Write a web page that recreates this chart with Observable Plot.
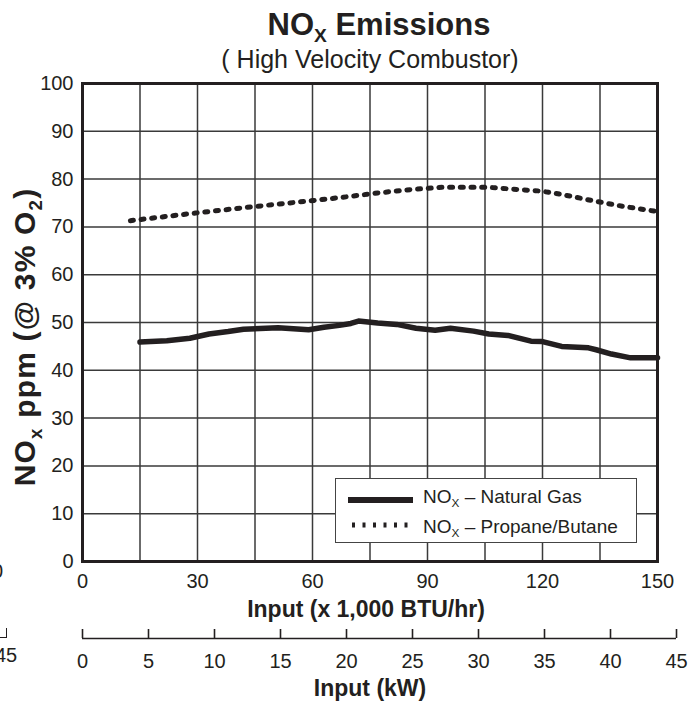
<!DOCTYPE html>
<html>
<head>
<meta charset="utf-8">
<script src="https://cdn.jsdelivr.net/npm/d3@7"></script>
<script src="https://cdn.jsdelivr.net/npm/@observablehq/plot@0.6"></script>
<style>
  body { margin: 0; background: #fff; }
  #wrap { position: relative; width: 689px; height: 702px; overflow: hidden; background: #fff;
          font-family: "Liberation Sans", Arial, Helvetica, sans-serif; color: #231f20; }
  .abs { position: absolute; white-space: nowrap; }
  .ctr { transform: translateX(-50%); }
  sub { font-size: 0.62em; vertical-align: -0.35em; line-height: 0; }
  #main, #kw { position: absolute; left: 0; }
</style>
</head>
<body>
<div id="wrap">
  <div class="abs ctr" style="left:379px; top:8.8px; font-size:31px; line-height:31px; font-weight:bold;">NO<sub>X</sub> Emissions</div>
  <div class="abs ctr" style="left:370px; top:46.8px; font-size:25px; line-height:25px;">( High Velocity Combustor)</div>
  <div class="abs" style="left:25px; top:337px; font-size:30px; line-height:30px; font-weight:bold; letter-spacing:1.2px; transform: translate(-50%,-50%) rotate(-90deg);">NO<sub>x</sub> ppm (@ 3% O<sub>2</sub>)</div>
  <div id="main"></div>
  <div id="kw" style="top:600px;"></div>
  <div class="abs ctr" style="left:366px; top:597.5px; font-size:23px; line-height:23px; font-weight:bold;">Input (x 1,000 BTU/hr)</div>
  <div class="abs ctr" style="left:370px; top:676.5px; font-size:23px; line-height:23px; font-weight:bold;">Input (kW)</div>
  <!-- legend -->
  <div class="abs" style="left:335px; top:478px; width:300px; height:63px; background:#fff; border:1.5px solid #444;">
    <svg width="80" height="63" style="position:absolute; left:0; top:0;">
      <line x1="12" x2="77" y1="21" y2="21" stroke="#231f20" stroke-width="6"/>
      <line x1="16" x2="72" y1="46" y2="46" stroke="#231f20" stroke-width="5" stroke-dasharray="3 7.5"/>
    </svg>
    <div class="abs" style="left:87px; top:8px; font-size:19px; line-height:19px;">NO<sub>X</sub> – Natural Gas</div>
    <div class="abs" style="left:87px; top:38px; font-size:19px; line-height:19px;">NO<sub>X</sub> – Propane/Butane</div>
  </div>
  <!-- cropped remnants of neighbouring panel -->
  <div class="abs" style="left:-8px; top:561px; font-size:20px; line-height:20px;">0</div>
  <div class="abs" style="left:-5px; top:645px; font-size:20px; line-height:20px;">45</div>
  <div class="abs" style="left:0px; top:628px; width:6px; height:9px; border-right:1.5px solid #231f20; border-bottom:1.5px solid #231f20;"></div>
</div>
<script>
// Natural gas series (x = input ×1,000 BTU/hr, y = NOx ppm)
const gasX = [15, 22, 28, 33, 38, 42, 51, 59, 63, 67, 70, 72, 77, 82, 87, 92, 96, 102, 106, 111, 117, 120, 125, 132, 134, 138, 143, 150];
const gasY = [45.9, 46.2, 46.7, 47.6, 48.1, 48.6, 48.9, 48.5, 49.0, 49.4, 49.8, 50.3, 49.9, 49.6, 48.8, 48.4, 48.8, 48.2, 47.6, 47.3, 46.1, 46.0, 45.0, 44.7, 44.3, 43.4, 42.6, 42.6];
// Propane/Butane series
const propX = [12.5, 29.5, 43, 60, 69, 77, 85.5, 94, 105.5, 114, 119.5, 125, 133, 141, 150];
const propY = [71.3, 72.9, 74.1, 75.5, 76.3, 77.1, 77.8, 78.3, 78.3, 77.8, 77.5, 76.8, 75.5, 74.3, 73.2];
// Axis ticks
const xTicks = [0, 30, 60, 90, 120, 150];
const xGrid = [15, 30, 45, 60, 75, 90, 105, 120, 135];
const yTicks = [0, 10, 20, 30, 40, 50, 60, 70, 80, 90, 100];
const yGrid = [10, 20, 30, 40, 50, 60, 70, 80, 90];
const kwTicks = [0, 5, 10, 15, 20, 25, 30, 35, 40, 45];

const gas = gasX.map((x, i) => ({x, y: gasY[i]}));
const prop = propX.map((x, i) => ({x, y: propY[i]}));

const ink = "#231f20";
const main = Plot.plot({
  width: 689, height: 625,
  marginLeft: 82, marginRight: 32, marginTop: 83, marginBottom: 64,
  x: {domain: [0, 150]},
  y: {domain: [0, 100]},
  style: {fontFamily: '"Liberation Sans", Arial, sans-serif', fontSize: "20px", color: ink, background: "transparent", overflow: "visible"},
  marks: [
    Plot.ruleX(xGrid, {stroke: "#3a3a3a", strokeWidth: 1.5}),
    Plot.ruleY(yGrid, {stroke: "#3a3a3a", strokeWidth: 1.5}),
    Plot.line(prop, {x: "x", y: "y", stroke: ink, strokeWidth: 5, strokeDasharray: "3 7.7"}),
    Plot.line(gas, {x: "x", y: "y", stroke: ink, strokeWidth: 5.5, strokeLinejoin: "round"}),
    Plot.frame({stroke: ink, strokeWidth: 3}),
    Plot.axisX({ticks: xTicks, tickSize: 0, tickPadding: 12, label: null, fill: ink, fontSize: 20}),
    Plot.axisY({ticks: yTicks, tickSize: 0, tickPadding: 9, label: null, fill: ink, fontSize: 20})
  ]
});
document.getElementById("main").appendChild(main);

const kw = Plot.plot({
  width: 689, height: 102,
  marginLeft: 82, marginRight: 13, marginTop: 29, marginBottom: 64,
  x: {domain: [0, 45]},
  y: {domain: [0, 1], axis: null},
  style: {fontFamily: '"Liberation Sans", Arial, sans-serif', fontSize: "20px", color: ink, background: "transparent", overflow: "visible"},
  marks: [
    Plot.ruleY([0], {stroke: ink, strokeWidth: 1.6}),
    Plot.tickX(kwTicks, {x: d => d, stroke: ink, strokeWidth: 1.6}),
    Plot.axisX({ticks: kwTicks, tickSize: 0, tickPadding: 15, label: null, fill: ink, fontSize: 20})
  ]
});
document.getElementById("kw").appendChild(kw);
</script>
</body>
</html>
